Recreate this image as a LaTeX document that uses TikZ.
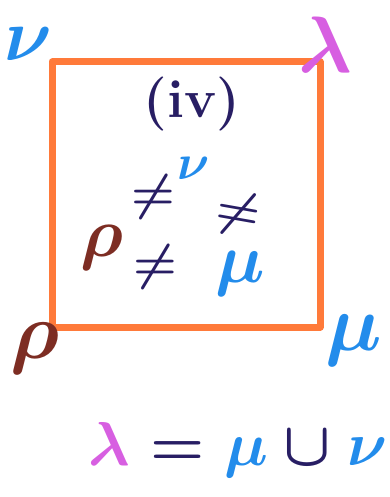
\documentclass[tikz,border=0pt]{standalone}
\usepackage{fix-cm}
\usepackage{tikz}
\usepackage{xcolor}
\usepackage{amsmath}
\definecolor{sqorange}{RGB}{255,122,58}
\definecolor{penblue}{RGB}{35,140,235}
\definecolor{penpink}{RGB}{215,95,225}
\definecolor{penbrown}{RGB}{125,45,35}
\definecolor{pennavy}{RGB}{40,30,100}

\begin{document}
\begin{tikzpicture}[x=1pt, y=-1pt,
    corner/.style={font=\fontsize{80}{80}\selectfont\boldmath, inner sep=0pt},
    inner/.style={font=\fontsize{70}{70}\selectfont\boldmath, inner sep=0pt},
    small/.style={font=\fontsize{50}{50}\selectfont\boldmath, inner sep=0pt}]
  \useasboundingbox (0,0) rectangle (389,497);
  % the square
  \coordinate (tl) at (52,62);
  \coordinate (tr) at (320,62);
  \coordinate (br) at (320,327);
  \coordinate (bl) at (52,327);
  \draw[sqorange, line width=7pt, line join=round] (tl) -- (tr) -- (br) -- (bl) -- cycle;
  % corner labels
  \node[corner, penblue, font=\fontsize{74}{74}\selectfont\boldmath] (nu) at (28,44) {$\nu$};
  \node[corner, penpink] (lambda) at (325,45) {$\lambda$};
  \node[corner, penbrown] (rho) at (35,348) {$\rho$};
  \node[corner, penblue] (mu) at (354,340) {$\mu$};
  % inside
  \node[small, pennavy, font=\fontsize{54}{54}\selectfont\bfseries] (label) at (192,104) {(iv)};
  \node[small, penblue] (nuin) at (194,168) {$\nu$};
  \node[small, pennavy] (neqtop) at (153,197) {$\neq$};
  \node[small, pennavy, rotate=-10] (neqright) at (238,214) {$\neq$};
  \node[inner, penbrown] (rhoin) at (102,248) {$\rho$};
  \node[small, pennavy] (neqlow) at (155,267) {$\neq$};
  \node[inner, penblue] (muin) at (240,274) {$\mu$};
  % formula below
  \node[font=\fontsize{62}{62}\selectfont\boldmath, inner sep=0pt] (union) at (238,450)
    {$\color{penpink}\lambda \color{pennavy}= \color{penblue}\mu\color{pennavy}\cup\color{penblue}\nu$};
\end{tikzpicture}
\end{document}
